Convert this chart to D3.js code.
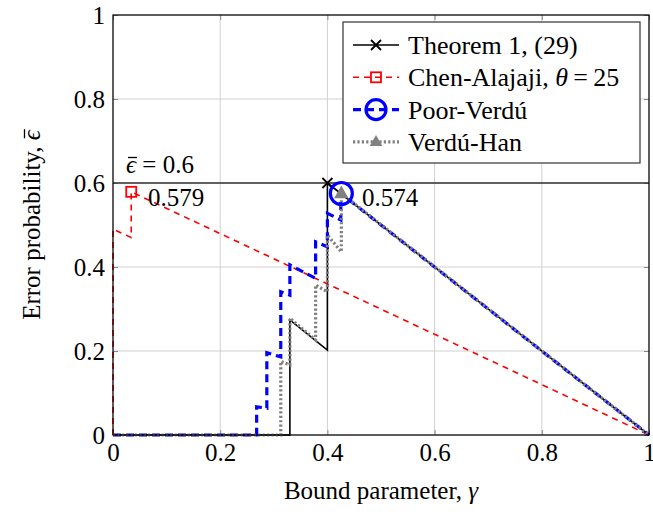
<!DOCTYPE html>
<html>
<head>
<meta charset="utf-8">
<script src="https://cdn.jsdelivr.net/npm/d3@7"></script>
<style>
  body { margin: 0; background: #fff; }
</style>
</head>
<body>
<svg id="chart" width="653" height="512" font-family="Liberation Serif"></svg>
<script>
// data: [gamma, epsilon]
const theoremX = [0, 0.330, 0.330, 0.400, 0.400, 1];
const theoremY = [0, 0, 0.274, 0.202, 0.600, 0];

const chenX = [0, 0, 0.034, 0.034, 1];
const chenY = [0, 0.49, 0.47, 0.579, 0];

const poorX = [0, 0.268, 0.268, 0.287, 0.287, 0.313, 0.313, 0.330, 0.330, 0.378, 0.378, 0.400, 0.400, 0.425, 0.425, 1];
const poorY = [0, 0, 0.067, 0.064, 0.196, 0.186, 0.341, 0.333, 0.405, 0.373, 0.460, 0.448, 0.528, 0.512, 0.575, 0];

const hanX = [0, 0.313, 0.313, 0.330, 0.330, 0.378, 0.378, 0.400, 0.400, 0.426, 0.426, 1];
const hanY = [0, 0, 0.175, 0.167, 0.278, 0.226, 0.357, 0.341, 0.476, 0.436, 0.575, 0];

const xTicks = [0, 0.2, 0.4, 0.6, 0.8, 1];
const yTicks = [0, 0.2, 0.4, 0.6, 0.8, 1];
const epsTarget = 0.6;

const FONT = "Liberation Serif";
const margin = {left: 113, top: 15, right: 4, bottom: 77};
const w = 653 - margin.left - margin.right;
const h = 512 - margin.top - margin.bottom;

let svg = d3.select("#chart");
let g = svg.append("g").attr("transform", `translate(${margin.left},${margin.top})`);

let x = d3.scaleLinear().domain([0, 1]).range([0, w]);
let y = d3.scaleLinear().domain([0, 1]).range([h, 0]);

// grid
g.selectAll(".gx").data(xTicks).enter().append("line")
  .attr("x1", d => x(d)).attr("x2", d => x(d)).attr("y1", 0).attr("y2", h)
  .attr("stroke", "#d0d0d0").attr("stroke-width", 1);
g.selectAll(".gy").data(yTicks).enter().append("line")
  .attr("y1", d => y(d)).attr("y2", d => y(d)).attr("x1", 0).attr("x2", w)
  .attr("stroke", "#d0d0d0").attr("stroke-width", 1);

// axes (ticks inward, on all sides)
let fmt = d => d === 0 || d === 1 ? String(d) : d.toFixed(1);
let styleAxis = (sel) => {
  sel.attr("font-family", FONT);
  sel.select(".domain").remove();
  sel.selectAll(".tick line").attr("stroke", "#888");
  sel.selectAll(".tick text").attr("font-size", 25).attr("fill", "#000").attr("font-family", FONT);
};
g.append("g").attr("transform", `translate(0,${h})`)
  .call(d3.axisBottom(x).tickValues(xTicks).tickFormat(fmt).tickSizeInner(-5).tickPadding(8))
  .call(styleAxis);
g.append("g")
  .call(d3.axisLeft(y).tickValues(yTicks).tickFormat(fmt).tickSizeInner(-5).tickPadding(8))
  .call(styleAxis);
g.append("g").attr("transform", `translate(${w},0)`)
  .call(d3.axisRight(y).tickValues(yTicks).tickFormat("").tickSizeInner(-5))
  .call(styleAxis);
g.append("g")
  .call(d3.axisTop(x).tickValues(xTicks).tickFormat("").tickSizeInner(-5))
  .call(styleAxis);

// target line
g.append("line").attr("x1", 0).attr("x2", w).attr("y1", y(epsTarget)).attr("y2", y(epsTarget))
  .attr("stroke", "#333").attr("stroke-width", 1.4);

let line = d3.line().x(d => x(d[0])).y(d => y(d[1]));
let pts = (xs, ys) => xs.map((v, i) => [v, ys[i]]);

let series = [
  {xs: theoremX, ys: theoremY, color: "#000", width: 1.6, dash: null},
  {xs: chenX, ys: chenY, color: "#ff0000", width: 1.6, dash: "6,5"},
  {xs: poorX, ys: poorY, color: "#0000ff", width: 3.2, dash: "8,5"},
  {xs: hanX, ys: hanY, color: "#808080", width: 3.2, dash: "2.2,2.2"}
];

g.selectAll(".series").data(series).enter().append("path")
  .attr("d", s => line(pts(s.xs, s.ys)))
  .attr("fill", "none")
  .attr("stroke", s => s.color)
  .attr("stroke-width", s => s.width)
  .attr("stroke-dasharray", s => s.dash);

// markers
let cross = (sel, cx, cy, r) => {
  sel.append("path").attr("d", `M${cx - r},${cy - r}L${cx + r},${cy + r}M${cx - r},${cy + r}L${cx + r},${cy - r}`)
    .attr("stroke", "#000").attr("stroke-width", 1.8);
};
let square = (sel, cx, cy, r) => {
  sel.append("rect").attr("x", cx - r).attr("y", cy - r).attr("width", 2 * r).attr("height", 2 * r)
    .attr("fill", "none").attr("stroke", "#ff0000").attr("stroke-width", 1.8);
};
let circle = (sel, cx, cy, r) => {
  sel.append("circle").attr("cx", cx).attr("cy", cy).attr("r", r)
    .attr("fill", "none").attr("stroke", "#0000ff").attr("stroke-width", 3.2);
};
let tri = (sel, cx, cy, r) => {
  sel.append("path").attr("d", `M${cx},${cy - r}L${cx + r * 0.9},${cy + r * 0.6}L${cx - r * 0.9},${cy + r * 0.6}Z`)
    .attr("fill", "#808080");
};

cross(g, x(0.400), y(0.600), 5);
square(g, x(0.034), y(0.579), 5);
circle(g, x(0.426), y(0.575), 11);
tri(g, x(0.426), y(0.575), 8);

// text with an italic epsilon that gets a bar drawn over it
let epsText = (parent, before, after, attrs) => {
  let t = parent.append("text").attr("font-family", FONT);
  Object.keys(attrs).forEach(k => t.attr(k, attrs[k]));
  if (before) t.append("tspan").text(before);
  t.append("tspan").attr("font-style", "italic").text("\u03f5");
  if (after) t.append("tspan").text(after);
  let idx = before.length;
  let box = t.node().getExtentOfChar(idx);
  let fs = +attrs["font-size"];
  let by = +attrs.y - fs * 0.62;
  parent.append("line").attr("x1", box.x + 2).attr("x2", box.x + box.width + 1)
    .attr("y1", by).attr("y2", by).attr("stroke", "#000").attr("stroke-width", 1.3);
  return t;
};

// annotations
epsText(g, "", " = 0.6", {x: 13, y: y(epsTarget) - 10, "font-size": 25});
g.append("text").attr("font-family", FONT).attr("x", 35).attr("y", y(epsTarget) + 23).attr("font-size", 25).text("0.579");
g.append("text").attr("font-family", FONT).attr("x", 249).attr("y", y(epsTarget) + 23).attr("font-size", 25).text("0.574");

// axis labels
svg.append("text").attr("font-family", FONT).attr("x", margin.left + w / 2).attr("y", 499).attr("text-anchor", "middle")
  .attr("font-size", 25)
  .html('Bound parameter, <tspan font-style="italic">\u03b3</tspan>');
let ylg = svg.append("g").attr("transform", `translate(40,${margin.top + h / 2}) rotate(-90)`);
epsText(ylg, "Error probability, ", "", {x: 0, y: 0, "text-anchor": "middle", "font-size": 25});

// frame
g.append("rect").attr("width", w).attr("height", h).attr("fill", "none").attr("stroke", "#000").attr("stroke-width", 1.2);

// legend
let lg = svg.append("g").attr("transform", "translate(343,22)");
lg.append("rect").attr("width", 297).attr("height", 141).attr("fill", "#fff").attr("stroke", "#333").attr("stroke-width", 1.2);
let legendNames = ["Theorem 1, (29)", "Chen-Alajaji, ", "Poor-Verd\u00fa", "Verd\u00fa-Han"];
let markers = [cross, square, circle, tri];
let markerR = [5, 5, 10, 7];
series.forEach((s, i) => {
  let yy = 23 + i * 32.3;
  lg.append("line").attr("x1", 10).attr("x2", 56).attr("y1", yy).attr("y2", yy)
    .attr("stroke", s.color).attr("stroke-width", s.width).attr("stroke-dasharray", s.dash);
  markers[i](lg, 33, yy, markerR[i]);
  let t = lg.append("text").attr("font-family", FONT).attr("x", 65).attr("y", yy + 9).attr("font-size", 26).text(legendNames[i]);
  if (i === 1) {
    t.append("tspan").attr("font-style", "italic").text("\u03b8");
    t.append("tspan").text("\u2009=\u200925");
  }
});
</script>
</body>
</html>
